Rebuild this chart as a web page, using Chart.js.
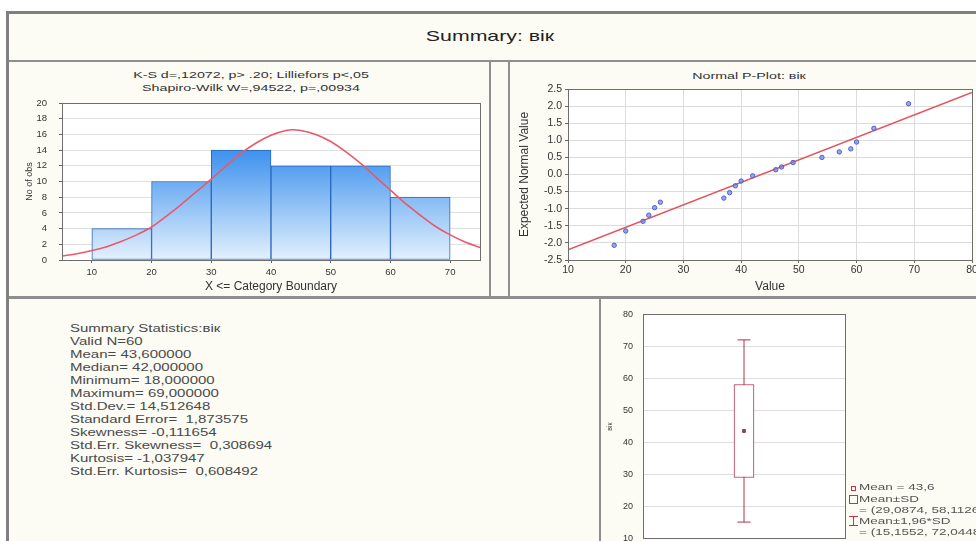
<!DOCTYPE html>
<html><head><meta charset="utf-8">
<script src="https://cdn.jsdelivr.net/npm/chart.js@4"></script>
<style>
html,body{margin:0;padding:0;}
body{width:976px;height:541px;overflow:hidden;position:relative;background:#fff;font-family:"Liberation Sans",Arial,sans-serif;color:#333;}
.frame{position:absolute;left:6px;top:11px;width:1000px;height:560px;background:#fcfbf4;border-left:3px solid #808080;border-top:3px solid #808080;}
.ln{position:absolute;background:#8e8e8e;}
.c{position:absolute;white-space:nowrap;line-height:1;transform:translate(-50%,-50%) scaleX(1.5);}
.l{position:absolute;white-space:nowrap;transform-origin:0 0;transform:scaleX(1.5);}
canvas{position:absolute;}
.stats{left:70px;top:322px;font-size:10px;line-height:13px;color:#4a4a4a;}
.leg{font-size:9px;line-height:11px;color:#555;}
.mk{position:absolute;border:1px solid #d02c4c;box-sizing:border-box;}
</style></head><body>
<div class="frame"></div>
<div class="ln" style="left:9px;top:60px;width:967px;height:2px"></div>
<div class="ln" style="left:489px;top:61px;width:2px;height:237px"></div>
<div class="ln" style="left:508px;top:61px;width:2px;height:237px"></div>
<div class="ln" style="left:9px;top:296px;width:967px;height:3px"></div>
<div class="ln" style="left:599px;top:298px;width:2px;height:243px"></div>

<div class="c" style="left:490px;top:35px;font-size:15px;color:#222;transform:translate(-50%,-50%) scaleX(1.42)">Summary: вік</div>
<div class="c" style="left:251px;top:75px;font-size:9.5px;">K-S d=,12072, p&gt; .20; Lilliefors p&lt;,05</div>
<div class="c" style="left:251px;top:88px;font-size:9.5px;">Shapiro-Wilk W=,94522, p=,00934</div>
<div class="c" style="left:749px;top:76px;font-size:9.5px;">Normal P-Plot: вік</div>

<canvas id="hist" width="478" height="232" style="left:10px;top:63px;width:478px;height:232px"></canvas>
<canvas id="pplot" width="480" height="232" style="left:510px;top:63px;width:480px;height:232px"></canvas>
<canvas id="box" width="375" height="255" style="left:601px;top:299px;width:375px;height:255px"></canvas>

<div class="l stats" id="stats"></div>

<div class="mk" style="left:851px;top:486px;width:5px;height:5px"></div>
<div class="l leg" style="left:859px;top:482px">Mean = 43,6</div>
<div class="mk" style="left:849px;top:495px;width:9px;height:9px"></div>
<div class="l leg" style="left:859px;top:494px">Mean±SD</div>
<div class="l leg" style="left:859px;top:505px">= (29,0874, 58,1126)</div>
<div style="position:absolute;left:849px;top:516px;width:9px;height:1px;background:#d02c4c"></div>
<div style="position:absolute;left:853px;top:516px;width:1px;height:10px;background:#d02c4c"></div>
<div style="position:absolute;left:849px;top:525px;width:9px;height:1px;background:#d02c4c"></div>
<div class="l leg" style="left:859px;top:516px">Mean±1,96*SD</div>
<div class="l leg" style="left:859px;top:527px">= (15,1552, 72,0448)</div>

<script>
// ---------- data ----------
const histBinLow   = [10, 20, 30, 40, 50, 60];
const histBinHigh  = [20, 30, 40, 50, 60, 70];
const histCounts   = [4, 10, 14, 12, 12, 8];
const curveX = [5, 7.5, 10, 12.5, 15, 17.5, 20, 22.5, 25, 27.5, 30, 32.5, 35, 37.5, 40, 42.5, 43.6, 45, 47.5, 50, 52.5, 55, 57.5, 60, 62.5, 65, 67.5, 70, 72.5, 75];
const curveY = [0.5, 0.8, 1.2, 1.7, 2.4, 3.2, 4.2, 5.6, 7.1, 8.7, 10.3, 12.0, 13.6, 14.9, 15.9, 16.5, 16.6, 16.5, 16.0, 15.1, 13.8, 12.3, 10.6, 8.9, 7.2, 5.7, 4.3, 3.2, 2.3, 1.6];
const histXTicks = [10, 20, 30, 40, 50, 60, 70];

const ppValues   = [18, 20, 23, 24, 25, 26, 37, 38, 39, 40, 42, 46, 47, 49, 54, 57, 59, 60, 63, 69];
const ppExpected = [-2.07, -1.65, -1.37, -1.19, -0.97, -0.81, -0.69, -0.53, -0.33, -0.19, -0.04, 0.14, 0.22, 0.35, 0.50, 0.66, 0.75, 0.95, 1.35, 2.07];
const ppLineX = [10, 80];
const ppLineY = [-2.2, 2.4];

const boxLabel = 'вік';
const boxMean = 43.6;
const boxSD   = [29.0874, 58.1126];
const box196  = [15.1552, 72.0448];

const statsLines = [
  'Summary Statistics:вік', 'Valid N=60', 'Mean= 43,600000', 'Median= 42,000000',
  'Minimum= 18,000000', 'Maximum= 69,000000', 'Std.Dev.= 14,512648', 'Standard Error=  1,873575',
  'Skewness= -0,111654', 'Std.Err. Skewness=  0,308694', 'Kurtosis= -1,037947', 'Std.Err. Kurtosis=  0,608492'
];
document.getElementById('stats').innerHTML = statsLines.map(s => '<div>' + s.replace(/  /g,' &nbsp;') + '</div>').join('');

// ---------- plugins ----------
const areaFrame = {
  id: 'areaFrame',
  beforeDraw(chart) {
    const a = chart.chartArea, ctx = chart.ctx;
    ctx.save(); ctx.fillStyle = '#ffffff';
    ctx.fillRect(a.left, a.top, a.right - a.left, a.bottom - a.top);
    ctx.restore();
  },
  afterDraw(chart) {
    const a = chart.chartArea, ctx = chart.ctx;
    ctx.save(); ctx.strokeStyle = '#6e6e6e'; ctx.lineWidth = 1;
    ctx.strokeRect(Math.round(a.left) + 0.5, Math.round(a.top) + 0.5, Math.round(a.right - a.left), Math.round(a.bottom - a.top));
    ctx.restore();
  }
};
Chart.register(areaFrame);
Chart.defaults.font.family = '"Liberation Sans", Arial, sans-serif';
Chart.defaults.color = '#333';
Chart.defaults.animation = false;
Chart.defaults.plugins.legend.display = false;
Chart.defaults.plugins.tooltip.enabled = false;

// ---------- histogram ----------
const barGrad = (ctx) => {
  const a = ctx.chart.chartArea;
  if (!a) return '#6aa8ee';
  const g = ctx.chart.ctx.createLinearGradient(0, a.top, 0, a.bottom);
  g.addColorStop(0, '#1c6fdf');
  g.addColorStop(0.3, '#3d91ee');
  g.addColorStop(1, '#e4f1fd');
  return g;
};
new Chart(document.getElementById('hist'), {
  type: 'bar',
  data: {
    datasets: [
      { type: 'line', data: curveX.map((x, i) => ({x, y: curveY[i]})), borderColor: '#e75a6c', borderWidth: 1.6,
        pointRadius: 0, cubicInterpolationMode: 'monotone', order: 0 },
      { type: 'bar', data: histBinLow.map((lo, i) => ({x: (lo + histBinHigh[i]) / 2, y: histCounts[i]})),
        backgroundColor: barGrad, borderColor: '#2a66bd', borderWidth: 1, borderSkipped: false,
        barPercentage: 1, categoryPercentage: 1, order: 1 }
    ]
  },
  options: {
    responsive: false,
    layout: { padding: { top: 40, right: 8, left: 0, bottom: 0 } },
    scales: {
      x: { type: 'linear', min: 5, max: 75, offset: false,
        afterBuildTicks: s => { s.ticks = histXTicks.map(v => ({value: v})); },
        afterFit: s => { s.height = 35; },
        grid: { display: true, drawOnChartArea: false, drawTicks: true, tickLength: 3, tickColor: '#666', offset: false },
        border: { display: false },
        ticks: { font: { size: 9.5 }, padding: 4, maxRotation: 0 },
        title: { display: true, text: 'X <= Category Boundary', font: { size: 12 }, padding: { top: 0, bottom: 1 } } },
      y: { min: 0, max: 20,
        afterFit: s => { s.width = 52; },
        grid: { color: '#e0e0e0', drawTicks: true, tickLength: 3, tickColor: '#666' },
        border: { display: false },
        ticks: { stepSize: 2, font: { size: 9.5 }, padding: 12 },
        title: { display: true, text: 'No of obs', font: { size: 9 }, padding: { top: 14, bottom: 0 } } }
    }
  }
});

// ---------- normal P-plot ----------
new Chart(document.getElementById('pplot'), {
  type: 'scatter',
  data: {
    datasets: [
      { type: 'line', data: ppLineX.map((x, i) => ({x, y: ppLineY[i]})), borderColor: '#e4525e', borderWidth: 1.6,
        pointRadius: 0, order: 1 },
      { type: 'scatter', data: ppValues.map((x, i) => ({x, y: ppExpected[i]})), pointRadius: 2.2,
        pointBackgroundColor: 'rgba(110,130,225,0.7)', pointBorderColor: '#4b63d0', pointBorderWidth: 1, order: 0 }
    ]
  },
  options: {
    responsive: false,
    layout: { padding: { top: 26, right: 18, left: 0, bottom: 0 } },
    scales: {
      x: { type: 'linear', min: 10, max: 80,
        afterFit: s => { s.height = 35; },
        grid: { color: '#dcdcdc', drawTicks: true, tickLength: 3, tickColor: '#666' },
        border: { display: false },
        ticks: { stepSize: 10, font: { size: 10.5 }, padding: 1, maxRotation: 0 },
        title: { display: true, text: 'Value', font: { size: 12 }, padding: { top: 0, bottom: 1 } } },
      y: { type: 'linear', min: -2.5, max: 2.5,
        afterFit: s => { s.width = 58; },
        grid: { color: '#dcdcdc', drawTicks: true, tickLength: 3, tickColor: '#666' },
        border: { display: false },
        ticks: { stepSize: 0.5, font: { size: 10.5 }, padding: 3, callback: v => Number(v).toFixed(1) },
        title: { display: true, text: 'Expected Normal Value', font: { size: 12 }, padding: { top: 7, bottom: 0 } } }
    }
  }
});

// ---------- box plot ----------
const boxColor = '#b0304c';
new Chart(document.getElementById('box'), {
  type: 'bar',
  data: {
    datasets: [
      { type: 'line', data: [{x: 0, y: box196[0]}, {x: 0, y: box196[1]}], borderColor: boxColor, borderWidth: 1,
        pointRadius: 0, order: 3 },
      { type: 'bar', data: [{x: 0, y: boxSD}], backgroundColor: '#ffffff', borderColor: boxColor, borderWidth: 1,
        borderSkipped: false, barThickness: 20, order: 2 },
      { type: 'scatter', data: [{x: 0, y: box196[0]}, {x: 0, y: box196[1]}], pointStyle: 'line', pointRadius: 6.5,
        pointBorderColor: boxColor, pointBorderWidth: 1, order: 1 },
      { type: 'scatter', data: [{x: 0, y: boxMean}], pointStyle: 'rect', pointRadius: 2,
        pointBackgroundColor: '#7a5060', pointBorderColor: '#8a4058', pointBorderWidth: 1, order: 0 }
    ]
  },
  options: {
    responsive: false,
    layout: { padding: { top: 8, right: 131, left: 0, bottom: 14 } },
    scales: {
      x: { type: 'linear', min: -1, max: 1, display: false, offset: false },
      y: { min: 10, max: 80,
        afterFit: s => { s.width = 42; },
        grid: { color: '#dedede', drawTicks: false },
        border: { display: false },
        ticks: { stepSize: 10, font: { size: 9 }, padding: 10 },
        title: { display: true, text: boxLabel, font: { size: 7 }, padding: { top: 5, bottom: 0 } } }
    }
  }
});
</script>
</body></html>
